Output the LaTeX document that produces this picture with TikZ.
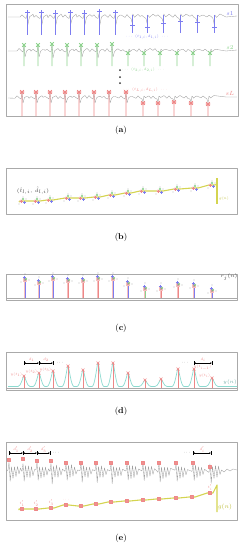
\documentclass[tikz,border=0pt]{standalone}
\usetikzlibrary{arrows.meta}
\definecolor{framegray}{RGB}{170,170,170}
\definecolor{ecggray}{RGB}{160,160,160}
\definecolor{sblue}{RGB}{125,125,240}
\definecolor{sgreen}{RGB}{140,210,140}
\definecolor{sred}{RGB}{238,135,135}
\definecolor{spink}{RGB}{246,190,190}
\definecolor{gyellow}{RGB}{212,212,80}
\definecolor{gtext}{RGB}{190,190,60}
\definecolor{ycyan}{RGB}{140,218,208}
\begin{document}
\begin{tikzpicture}[x=1pt, y=-1pt, line join=round,
    every node/.style={inner sep=0.4pt},
    frame/.style={draw=framegray, line width=0.9pt},
    ecg/.style={ecggray, line width=0.35pt},
    gline/.style={gyellow, line width=1.1pt},
    beatmark/.style={line width=0.8pt},
    dim/.style={<->, >={Latex[length=1.6pt,width=1.5pt]}, line width=0.35pt},
    small/.style={font=\fontsize{5}{6}\selectfont, scale=0.72, transform shape},
    lead/.style={font=\fontsize{6.5}{7}\selectfont},
    panel/.style={font=\fontsize{8.5}{10}\selectfont}]
\pgfmathsetseed{11}
\useasboundingbox (0,0) rectangle (242,550);

% (a) the leads s1, s2, ..., sL
\draw[frame] (6,4) rectangle (238,116);
\draw[ecg] (8,17) \foreach \b/\r/\s in {27/-4/8,41/-4/8,55/-3/8,70/-4/7,84/-4/8,99/-5/8,115/-4/8,132/7/-3,147/8/-2,163/6/-3,180/5/-3,197/6/-2,214/9/-2}
  { -- ({\b-7},{17+0.8*rand}) -- ({\b-5},{15+0.6*rand}) -- ({\b-3},{17+0.6*rand}) -- ({\b-1},18.5) -- ({\b+0.5},{17+\r}) -- ({\b+0.8},{17+\s}) -- ({\b+2.5},{17+0.6*rand}) -- ({\b+4.5},15.5) -- ({\b+6},{14.5+0.6*rand}) } -- (226,17) -- (237,16);
\foreach \b/\mk/\hi/\lo in {27/12/10/35,41/12/10/35,55/13/10/35,70/12/10/35,84/13/10/35,99/11/9/35,115/12/10/35,132/25/15/33,147/27/15/33,163/23/15/33,180/21/15/33,197/22/15/33,214/27/15/33}
  \draw[sblue, beatmark] ({\b+0.5},\hi) -- ({\b+0.5},\lo) ({\b-2},{\mk+0.5}) -- ({\b+3},{\mk+0.5});
\draw[ecg] (8,51) \foreach \b/\r/\s in {24/-5/6,38/-5/6,52/-6/7,67/-5/6,81/-5/6,97/-5/7,112/-6/6,128/3/-2,144/3/-2,160/2/-2,177/3/-2,193/2/-2,210/3/-2}
  { -- ({\b-7},{51+0.8*rand}) -- ({\b-5},{49+0.6*rand}) -- ({\b-3},{51+0.6*rand}) -- ({\b-1},52) -- (\b,{51+\r}) -- ({\b+1},{51+\s}) -- ({\b+2.5},{51+0.6*rand}) -- ({\b+4.5},49.5) -- ({\b+6},{49+0.6*rand}) } -- (226,51) -- (237,50);
\foreach \b/\mk in {24/45,38/45,52/44,67/45,81/45,97/45,112/44,128/53,144/53,160/53,177/53,193/53,210/53}
  \draw[sgreen, beatmark] (\b,\mk) -- (\b,66) ({\b-1.8},{\mk-1.8}) -- ({\b+1.8},{\mk+1.8}) ({\b-1.8},{\mk+1.8}) -- ({\b+1.8},{\mk-1.8});
\draw[ecg] (8,98) \foreach \b/\r/\s in {22/-5/5,36/-5/5,50/-6/5,65/-5/5,79/-5/5,94/-5/5,109/-6/5,126/-5/5,143/4/-2,158/4/-2,174/3/-2,191/4/-2,208/5/-2}
  { -- ({\b-7},{98+0.8*rand}) -- ({\b-5},{96+0.6*rand}) -- ({\b-3},{98+0.6*rand}) -- ({\b-1},99) -- (\b,{98+\r}) -- ({\b+1},{98+\s}) -- ({\b+2.5},{98+0.6*rand}) -- ({\b+4.5},96.5) -- ({\b+6},{96+0.6*rand}) } -- (226,97) -- (237,97);
\foreach \b/\mk in {22/92,36/92,50/92,65/92,79/92,94/92,109/92,126/92,143/103,158/103,174/102,191/103,208/104}
  \draw[sred, beatmark] (\b,\mk) -- (\b,116) ({\b-1.8},{\mk-1.8}) -- ({\b+1.8},{\mk+1.8}) ({\b-1.8},{\mk+1.8}) -- ({\b+1.8},{\mk-1.8}) ({\b-2.3},\mk) -- ({\b+2.3},\mk);
\node[lead, sblue] (lead1) at (230,14) {$s1$};
\node[lead, sgreen] (lead2) at (230,48) {$s2$};
\node[lead, sred] (leadL) at (230,93) {$sL$};
\node[small, sblue] (pair1) at (147,37) {$\cdots\ (t_{1,i},d_{1,i})\ \cdots$};
\node[small, sgreen] (pair2) at (143,70) {$\cdots\ (t_{2,i},d_{2,i})\ \cdots$};
\node[small, sred] (pairL) at (145,90) {$\cdots\ (t_{L,i},d_{L,i})\ \cdots$};
\foreach \y in {70,77,83}
  \fill[black!80] (120,\y) circle (1pt);
\node[panel] (capa) at (121,130) {(\textbf{a})};

% (b) all detections on one time axis
\draw[frame] (6,168) rectangle (237,214);
\draw[gline] (19,202) \foreach \x/\y in {23/201,37/201,50/200,68/198,82/198,97/197,112/195,128/193,143/191,160/191,177/189,195/188,212/185}
  { -- ({\x-3},\y) -- ({\x+3},\y) } -- (217,184);
\draw[gline] (217,178) -- (217,204);
\foreach \x/\y in {23/201,37/201,50/200,68/198,82/198,97/197,112/195,128/193,143/191,160/191,177/189,195/188,212/185} {
  \fill[spink] ({\x-2},\y) circle (1.6pt);
  \draw[sred, line width=0.35pt] ({\x-3.5},\y) -- ({\x-0.5},\y) ({\x-2},{\y-1.5}) -- ({\x-2},{\y+1.5});
  \draw[sblue, line width=0.45pt] ({\x},{\y+1}) -- ({\x+3},{\y+1}) ({\x+1.5},{\y-0.5}) -- ({\x+1.5},{\y+2.5});
  \draw[sgreen, line width=0.45pt] ({\x-1},{\y-3}) -- ({\x+1},{\y-1}) ({\x-1},{\y-1}) -- ({\x+1},{\y-3});
  \fill[black!70] ({\x},{\y-4}) circle (0.45pt) ({\x-4},{\y+3}) circle (0.35pt) ({\x+3},{\y-2}) circle (0.35pt);
}
\node[font=\fontsize{5.5}{6}\selectfont, black!75] (hatpair) at (33,191) {$(\hat{t}_{l,i},\,\hat{d}_{l,i})$};
\node[small, gtext] (gb) at (224,199) {$g(n)$};
\node[panel] (capb) at (121,237) {(\textbf{b})};

% (c) r_j(n)
\draw[frame] (6,274) rectangle (237,300);
\draw[framegray, line width=0.5pt] (6,298) -- (237,298);
\foreach \x/\y/\c in {25/280/sblue,39/283/sblue,53/279/sblue,68/281/sred,83/281/sred,98/279/sred,113/279/sblue,128/284/sblue,145/289/sgreen,161/289/sred,178/285/sred,194/286/sblue,212/291/sblue} {
  \draw[spink, line width=1.8pt] (\x,298) -- (\x,\y);
  \draw[\c, line width=0.5pt] (\x,298) -- (\x,{\y-1});
  \fill[spink] ({\x-1.6},{\y-1.6}) rectangle ({\x+1.6},{\y+1.6});
  \draw[sblue, line width=0.4pt] ({\x-2.5},{\y-3}) -- ({\x+0.5},{\y-3}) ({\x-1},{\y-4.5}) -- ({\x-1},{\y-1.5});
  \draw[sgreen, line width=0.4pt] ({\x},{\y-2}) -- ({\x+2},{\y}) ({\x},{\y}) -- ({\x+2},{\y-2});
  \fill[black!75] (\x,\y) circle (0.7pt) ({\x-4},{\y+2}) circle (0.3pt) ({\x+4},{\y}) circle (0.3pt) ({\x},{\y-6}) circle (0.3pt);
}
\node[font=\fontsize{5}{6}\selectfont, black!75] (rj) at (229,277) {$r_j(n)$};
\node[panel] (capc) at (121,328) {(\textbf{c})};

% (d) smoothed y(n) and its peaks
\draw[frame] (6,352) rectangle (237,390);
\draw[framegray, line width=0.5pt] (6,388) -- (237,388);
\draw[ycyan, line width=0.7pt] (8,386.5) \foreach \p/\h in {24/376,39/373,53/371,68/366,83/370,98/363,113/363,128/373,145/380,161/379,178/369,194/369,212/378}
  { -- ({\p-6},386.5) .. controls ({\p-3},386.5) and ({\p-1},\h) .. (\p,\h) .. controls ({\p+1},\h) and ({\p+3},386.5) .. ({\p+6},386.5) } -- (237,386.5);
\foreach \p/\h in {24/376,39/373,53/371,68/366,83/370,98/363,113/363,128/373,145/380,161/379,178/369,194/369,212/378} {
  \draw[sred, line width=0.45pt] (\p,\h) -- (\p,388);
  \draw[sred, line width=0.45pt] ({\p-1.5},{\h-1.5}) -- ({\p+1.5},{\h+1.5}) ({\p-1.5},{\h+1.5}) -- ({\p+1.5},{\h-1.5});
}
\foreach \x in {24,39,53,194,212}
  \draw[line width=0.35pt] (\x,361) -- (\x,365);
\coordinate (d0) at (24,363);
\coordinate (d1) at (39,363);
\coordinate (d2) at (53,363);
\coordinate (dk) at (194,363);
\coordinate (dl) at (212,363);
\draw[dim] (d0) -- (d1);
\draw[dim] (d1) -- (d2);
\draw[dim] (dk) -- (dl);
\node[small, sred] (dd1) at (31.5,359.5) {$d_1$};
\node[small, sred] (dd2) at (46,359.5) {$d_2$};
\node[small] (ddots1) at (60,362.5) {$\cdots$};
\node[small] (ddots2) at (185,362.5) {$\cdots$};
\node[small, sred] (ddi) at (203,359.5) {$d_i$};
\node[small, sred, anchor=east] (y1) at (22.5,374.5) {$y(t_1)$};
\node[small, sred, anchor=east] (y2) at (37.5,371.5) {$y(t_2)$};
\node[small, sred, anchor=east] (y3) at (51.5,369.5) {$y(t_3)$};
\node[small, sred, anchor=west] (yk) at (193.5,367.5) {$y(t_{i-1})$};
\node[small, sred, anchor=east] (yl) at (210.5,376) {$y(t_i)$};
\node[font=\fontsize{5}{6}\selectfont, ycyan!80!black] (yn) at (230,382) {$y(n)$};
\node[panel] (capd) at (121,411) {(\textbf{d})};

% (e) beats on the lead and on g(n)
\draw[frame] (6,442) rectangle (237,520);
\draw[ecg] (7,471) \foreach \b in {9,23,37,51,66,81,96,111,127,143,159,176,193,210}
  { -- ({\b-1},{471+1.5*rand}) -- (\b,{463+rand}) -- ({\b+1.2},{482+2*rand}) -- ({\b+2.5},{466+rand}) -- ({\b+4},{478+rand}) -- ({\b+5.5},{466+1.5*rand}) -- ({\b+7},{477+rand}) -- ({\b+8.5},{467+rand}) -- ({\b+10},{475+rand}) -- ({\b+11.5},{469+rand}) }
  -- (224,472) -- (227,469) -- (230,471) -- (233,469) -- (237,470);
\foreach \x/\y in {9/460,23/459,37/461,51/461,66/463,81/463,96/463,111/463,127/463,143/463,159/463,176/463,193/463,210/467} {
  \filldraw[fill=spink, draw=sred, line width=0.3pt] ({\x-1.5},{\y-1.5}) rectangle ({\x+1.5},{\y+1.5});
  \draw[sred, line width=0.4pt] ({\x-1},{\y-1}) -- ({\x+1},{\y+1}) ({\x-1},{\y+1}) -- ({\x+1},{\y-1});
}
\foreach \x in {9,23,37,50,193,211}
  \draw[line width=0.35pt] (\x,451) -- (\x,455);
\coordinate (e0) at (9,453);
\coordinate (e1) at (23,453);
\coordinate (e2) at (37,453);
\coordinate (e3) at (50,453);
\coordinate (ek) at (193,453);
\coordinate (el) at (211,453);
\draw[dim] (e0) -- (e1);
\draw[dim] (e1) -- (e2);
\draw[dim] (e2) -- (e3);
\draw[dim] (ek) -- (el);
\node[small, sred] (ed1) at (16,449.5) {$d'_1$};
\node[small, sred] (ed2) at (30,449.5) {$d'_2$};
\node[small, sred] (ed3) at (43.5,449.5) {$d'_3$};
\node[small] (edots1) at (56,452.5) {$\cdots$};
\node[small] (edots2) at (187,452.5) {$\cdots$};
\node[small, sred] (edi) at (202,449.5) {$d'_i$};
\draw[gline] (19,510) \foreach \x/\y in {22/509,36/509,51/508,66/505,81/506,96/504,111/502,127/501,143/500,159/499,176/498,192/497,210/493}
  { -- ({\x-3},\y) -- ({\x+3},\y) } -- (217,485) -- (217,512);
\foreach \x/\y in {22/509,36/509,51/508,66/505,81/506,96/504,111/502,127/501,143/500,159/499,176/498,192/497,210/493} {
  \filldraw[fill=spink, draw=sred, line width=0.3pt] ({\x-1.5},{\y-1.5}) rectangle ({\x+1.5},{\y+1.5});
  \draw[sred, line width=0.4pt] ({\x-1},{\y-1}) -- ({\x+1},{\y+1}) ({\x-1},{\y+1}) -- ({\x+1},{\y-1});
}
\node[small, sred] (et1) at (22,503.5) {$t'_1$};
\node[small, sred] (et2) at (36,503.5) {$t'_2$};
\node[small, sred] (et3) at (51,502.5) {$t'_3$};
\node[small, sred] (etdots1) at (66,499.5) {$\cdots$};
\node[small, sred] (etdots2) at (192,491.5) {$\cdots$};
\node[small, sred] (eti) at (210,487.5) {$t'_i$};
\node[font=\fontsize{6}{7}\selectfont, gtext] (ge) at (225,507) {$g(n)$};
\node[panel] (cape) at (121,538) {(\textbf{e})};
\end{tikzpicture}
\end{document}
